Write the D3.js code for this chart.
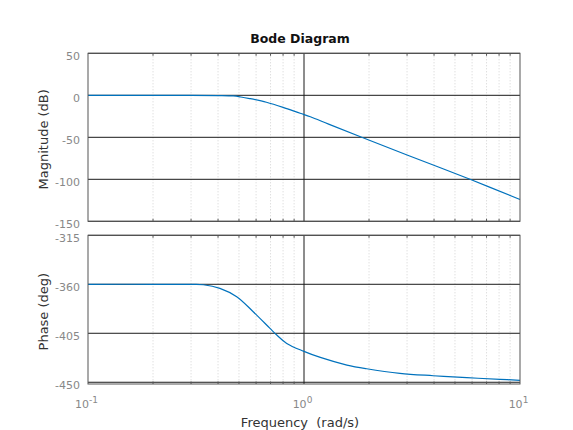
<!DOCTYPE html>
<html>
<head>
<meta charset="utf-8">
<script src="https://cdn.jsdelivr.net/npm/d3@7"></script>
<style>
  body { margin: 0; background: #fff; }
  text { font-family: "DejaVu Sans", sans-serif; }
</style>
</head>
<body>
<svg id="chart" width="573" height="430"></svg>
<script>
const magFreq = [0.1, 0.2, 0.3, 0.4, 0.47, 0.51, 0.56, 0.67, 0.8, 0.96, 1.07, 1.3, 1.85, 3, 5.87, 10];
const magDb = [0, 0, -0.05, -0.3, -0.8, -2, -3.9, -8.3, -14.3, -21.4, -25.5, -34.3, -50, -71, -100, -124];

const phaseFreq = [0.1, 0.2, 0.3, 0.342, 0.408, 0.488, 0.582, 0.696, 0.748, 0.832, 0.993, 1.19, 1.58, 1.95, 2.78, 3.97, 5.67, 8.08, 10];
const phaseDeg = [-360, -360, -360.1, -360.4, -363.7, -371.4, -385.2, -400.5, -406.6, -414.3, -421.4, -427.2, -434.2, -437.6, -441.8, -444, -445.8, -447.3, -448.2];

// Graduations
const freqTicks = [0.1, 1, 10];
const freqExp = ["-1", "0", "1"];
const magTicks = [50, 0, -50, -100, -150];
const phaseTicks = [-315, -360, -405, -450];

const blue = "#0072bd";
const svg = d3.select("#chart");

const x = d3.scaleLog().domain([0.1, 10]).range([88, 520]);
const yMag = d3.scaleLinear().domain([-150, 50]).range([221.3, 53.3]);
const yPh = d3.scaleLinear().domain([-451.6, -315]).range([384, 235.3]);

// grille mineure : 2..9 de chaque decade
const minor = [];
[0.1, 1].forEach((d) => {
  for (let k = 2; k <= 9; k++) minor.push(d * k);
});

function drawPanel(y, ticks, label, freqs, vals) {
  const [y0, y1] = y.range(); // bas, haut
  const g = svg.append("g");

  // grille mineure pointillee
  g.selectAll("line.minor")
    .data(minor)
    .enter()
    .append("line")
    .attr("class", "minor")
    .attr("x1", (d) => x(d))
    .attr("x2", (d) => x(d))
    .attr("y1", y1)
    .attr("y2", y0)
    .style("stroke", "#d2d2d2")
    .style("stroke-width", 1)
    .style("stroke-dasharray", "1,2");

  // grille majeure
  g.selectAll("line.hmaj")
    .data(ticks)
    .enter()
    .append("line")
    .attr("class", "hmaj")
    .attr("x1", x.range()[0])
    .attr("x2", x.range()[1])
    .attr("y1", (d) => y(d))
    .attr("y2", (d) => y(d))
    .style("stroke", "#1a1a1a")
    .style("stroke-width", 1);

  g.append("line")
    .attr("x1", x(1))
    .attr("x2", x(1))
    .attr("y1", y1)
    .attr("y2", y0)
    .style("stroke", "#1a1a1a")
    .style("stroke-width", 1);

  // courbe
  const line = d3
    .line()
    .x((d, i) => x(freqs[i]))
    .y((d) => y(d))
    .curve(d3.curveCatmullRom.alpha(0.5));

  g.append("path")
    .datum(vals)
    .attr("d", line)
    .style("fill", "none")
    .style("stroke", blue)
    .style("stroke-width", 1.2);

  // cadre
  g.append("rect")
    .attr("x", x.range()[0])
    .attr("y", y1)
    .attr("width", x.range()[1] - x.range()[0])
    .attr("height", y0 - y1)
    .style("fill", "none")
    .style("stroke", "#555")
    .style("stroke-width", 1);

  // petites graduations vers l'interieur
  g.selectAll("line.tickTop")
    .data(minor)
    .enter()
    .append("line")
    .attr("x1", (d) => x(d))
    .attr("x2", (d) => x(d))
    .attr("y1", y1)
    .attr("y2", y1 + 2.5)
    .style("stroke", "#555");
  g.selectAll("line.tickBot")
    .data(minor)
    .enter()
    .append("line")
    .attr("x1", (d) => x(d))
    .attr("x2", (d) => x(d))
    .attr("y1", y0)
    .attr("y2", y0 - 2.5)
    .style("stroke", "#555");

  // etiquettes Y
  g.selectAll("text.ytick")
    .data(ticks)
    .enter()
    .append("text")
    .attr("class", "ytick")
    .attr("x", 80)
    .attr("y", (d) => y(d) + 6.3)
    .attr("text-anchor", "end")
    .style("font-size", "11px")
    .style("fill", "#888")
    .text((d) => d);

  // titre de l'axe Y
  g.append("text")
    .attr("transform", `translate(48,${(y0 + y1) / 2 + 2}) rotate(-90)`)
    .attr("text-anchor", "middle")
    .style("font-size", "13px")
    .style("fill", "#333")
    .text(label);
}

drawPanel(yMag, magTicks, "Magnitude (dB)", magFreq, magDb);
drawPanel(yPh, phaseTicks, "Phase (deg)", phaseFreq, phaseDeg);

// etiquettes de frequence 10^n
const xl = svg
  .selectAll("text.xtick")
  .data(freqTicks)
  .enter()
  .append("text")
  .attr("class", "xtick")
  .attr("x", (d) => x(d) - 1.5)
  .attr("y", 408.3)
  .attr("text-anchor", "middle")
  .style("font-size", "11px")
  .style("fill", "#888");
xl.append("tspan").text("10");
xl.append("tspan")
  .attr("dy", -5)
  .style("font-size", "9px")
  .text((d, i) => freqExp[i]);

svg.append("text")
  .attr("x", 300)
  .attr("y", 426.5)
  .attr("text-anchor", "middle")
  .style("font-size", "13px")
  .style("fill", "#333")
  .style("white-space", "pre")
  .text("Frequency  (rad/s)");

svg.append("text")
  .attr("x", 300)
  .attr("y", 42.7)
  .attr("text-anchor", "middle")
  .style("font-size", "12.5px")
  .style("font-weight", "bold")
  .style("fill", "#111")
  .text("Bode Diagram");
</script>
</body>
</html>
